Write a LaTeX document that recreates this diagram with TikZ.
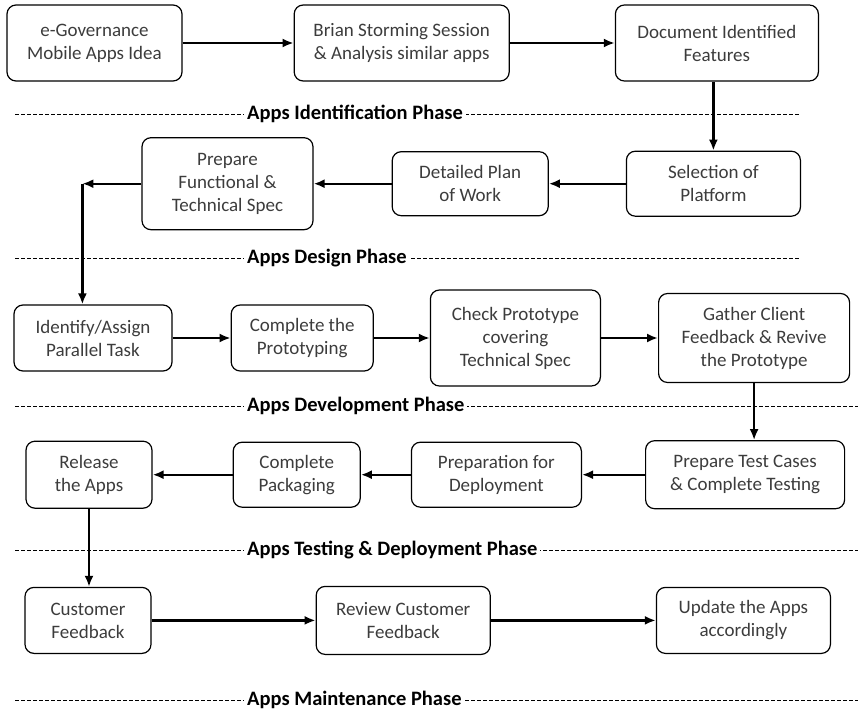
\documentclass[tikz,border=0pt]{standalone}
\usepackage{fontspec}
\setmainfont{Carlito}
\usepackage{tikz}
\usetikzlibrary{
  arrows.meta,
  calc,
  positioning,
}
\definecolor{boxtext}{RGB}{60, 60, 60}
\tikzstyle{box} = [
  rectangle,
  draw,
  rounded corners=9pt,
  line width=1.2pt,
  align=center,
  text=boxtext,
  font=\fontsize{19}{23}\selectfont,
]
\tikzstyle{arrow} = [
  -{Latex[length=11pt,width=9pt]},
  line width=2.4pt,
]
\tikzstyle{phase} = [
  dashed,
  dash pattern=on 4pt off 2pt,
  line width=0.9pt,
]
\tikzstyle{phaselabel} = [
  fill=white,
  anchor=west,
  inner xsep=3pt,
  font=\fontsize{20.5}{24}\selectfont\bfseries,
]

\begin{document}
\begin{tikzpicture}[x=1pt,y=-1pt]
      \useasboundingbox (0,0) rectangle (863,710);

      % identification
      \node[box,minimum width=175,minimum height=76] (idea) at (94.5,43) {e-Governance\\Mobile Apps Idea};
      \node[box,minimum width=215,minimum height=76] (brain) [right=111pt of idea] {Brian Storming Session\\\& Analysis similar apps};
      \node[box,minimum width=203,minimum height=76] (feat) [right=105pt of brain] {Document Identified\\Features};

      % design
      \node[box,minimum width=174,minimum height=65,xshift=-3.5] (platform) [below=69pt of feat] {Selection of\\Platform};
      \node[box,minimum width=156,minimum height=64] (plan) [left=77pt of platform] {Detailed Plan\\of Work};
      \node[box,minimum width=171,minimum height=92] (spec) [left=78pt of plan] {Prepare\\Functional \&\\Technical Spec};
      \coordinate[left=59pt of spec.west] (bend);

      % development
      \node[box,minimum width=158,minimum height=66] (assign) at (93,338) {Identify/Assign\\Parallel Task};
      \node[box,minimum width=142,minimum height=66] (proto) [right=58pt of assign] {Complete the\\Prototyping};
      \node[box,minimum width=170,minimum height=96] (check) [right=56pt of proto] {Check Prototype\\covering\\Technical Spec};
      \node[box,minimum width=191,minimum height=89] (client) [right=57pt of check] {Gather Client\\Feedback \& Revive\\the Prototype};

      % testing & deployment
      \node[box,minimum width=199,minimum height=68,xshift=-9] (test) [below=57pt of client] {Prepare Test Cases\\\& Complete Testing};
      \node[box,minimum width=170,minimum height=65] (deploy) [left=63pt of test] {Preparation for\\Deployment};
      \node[box,minimum width=127,minimum height=65] (pack) [left=50pt of deploy] {Complete\\Packaging};
      \node[box,minimum width=126,minimum height=67] (release) [left=80pt of pack] {Release\\the Apps};

      % maintenance
      \node[box,minimum width=126,minimum height=66,xshift=-1] (custfb) [below=78pt of release] {Customer\\Feedback};
      \node[box,minimum width=174,minimum height=68] (review) [right=164pt of custfb] {Review Customer\\Feedback};
      \node[box,minimum width=174,minimum height=66] (update) [right=165pt of review] {Update the Apps\\accordingly};

      % phase lines
      \draw[phase] (15,114) -- (800,114);
      \node[phaselabel] (ph1) at (244,114) {Apps Identification Phase};
      \draw[phase] (15,258) -- (800,258);
      \node[phaselabel] (ph2) at (244,258) {Apps Design Phase};
      \draw[phase] (15,406) -- (858,406);
      \node[phaselabel] (ph3) at (244,406) {Apps Development Phase};
      \draw[phase] (15,550) -- (858,550);
      \node[phaselabel] (ph4) at (244,550) {Apps Testing \& Deployment Phase};
      \draw[phase] (15,700) -- (858,700);
      \node[phaselabel] (ph5) at (244,700) {Apps Maintenance Phase};

      \draw[arrow] (idea) -- (brain);
      \draw[arrow] (brain) -- (feat);
      \draw[arrow] (platform.north |- feat.south) -- (platform.north);
      \draw[arrow] (platform) -- (plan);
      \draw[arrow] (plan) -- (spec);
      \draw[arrow] (spec.west) -- (bend);
      \draw[arrow] (bend) -- (bend |- assign.north);

      \draw[arrow] (assign) -- (proto);
      \draw[arrow] (proto) -- (check);
      \draw[arrow] (check) -- (client);
      \draw[arrow] (client.south) -- (client.south |- test.north);

      \draw[arrow] (test) -- (deploy);
      \draw[arrow] (deploy) -- (pack);
      \draw[arrow] (pack) -- (release);
      \draw[arrow] (release.south) -- (release.south |- custfb.north);

      \draw[arrow] (custfb) -- (review);
      \draw[arrow] (review) -- (update);

    \end{tikzpicture}
\end{document}
